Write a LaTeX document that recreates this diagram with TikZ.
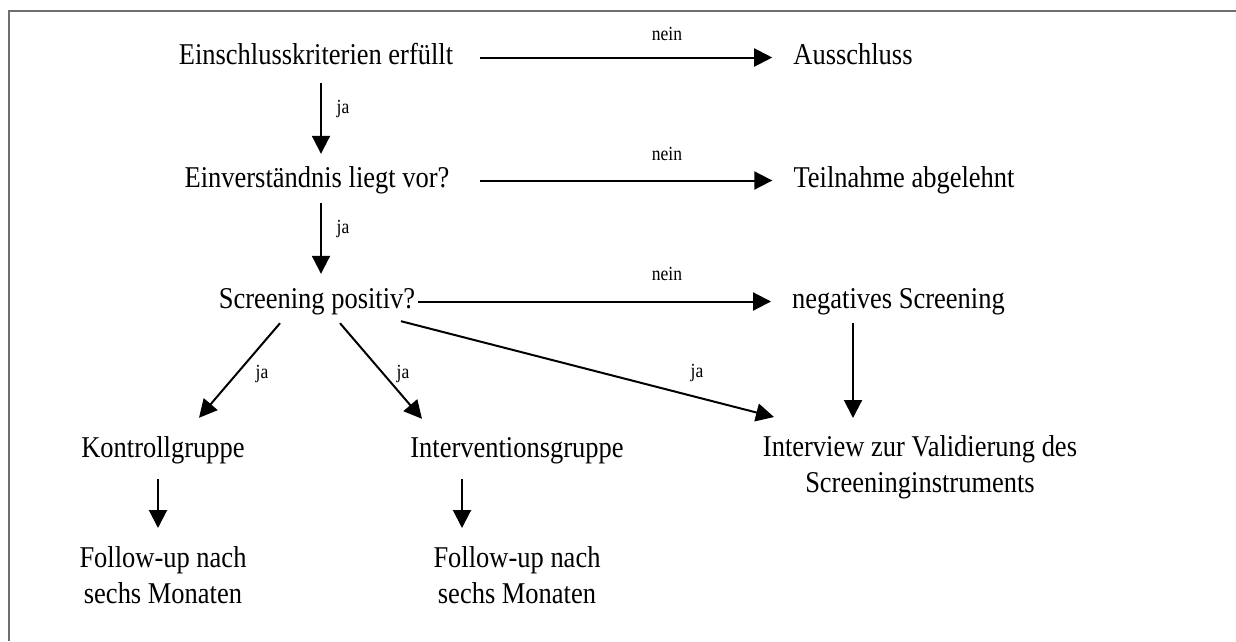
\documentclass[tikz,border=0pt]{standalone}
\usepackage{fontspec}
\setmainfont{Liberation Serif}[FakeStretch=0.877]
\usetikzlibrary{arrows.meta}
\definecolor{framegray}{RGB}{110,110,110}
\tikzset{
  txt/.style={inner sep=0pt, font=\fontsize{30.2}{35.5}\selectfont, text height=19pt, text depth=6pt, anchor=base},
  multi/.style={inner sep=0pt, font=\fontsize{30.2}{35.5}\selectfont, align=center, anchor=north},
  lbl/.style={inner sep=0pt, font=\fontsize{20}{22}\selectfont, anchor=base},
  arr/.style={line width=2pt, -{Triangle[length=18pt,width=18pt]}},
  frameline/.style={framegray, line width=1.6pt}
}
\begin{document}
\begin{tikzpicture}[x=1pt,y=-1pt]
\useasboundingbox (0,0) rectangle (1236,641);
% open frame: left and top edges
\draw[frameline] (9,641) -- (9,11) -- (1236,11);

% decision column
\node[txt] (e1) at (316,64) {Einschlusskriterien erfüllt};
\node[txt] (e2) at (317,187) {Einverständnis liegt vor?};
\node[txt] (sp) at (317,308) {Screening positiv?};

% outcomes on the right
\node[txt] (aus) at (853,64) {Ausschluss};
\node[txt] (teil) at (904,187) {Teilnahme abgelehnt};
\node[txt] (neg) at (898.5,308) {negatives Screening};

% groups
\node[txt] (kg) at (163,457) {Kontrollgruppe};
\node[txt] (ig) at (517,457) {Interventionsgruppe};
\node[multi] (iv) at (920,435.5) {Interview zur Validierung des\\Screeninginstruments};

% follow-ups
\node[multi] (fk) at (163,546.5) {Follow-up nach\\sechs Monaten};
\node[multi] (fi) at (517,546.5) {Follow-up nach\\sechs Monaten};

% "nein" branches
\draw[arr] ([xshift=27]e1.east) -- ([xshift=-21]aus.west);
\draw[arr] ([xshift=30]e2.east) -- ([xshift=-21]teil.west);
\draw[arr] ([xshift=3]sp.east) -- ([xshift=-21]neg.west);
\node[lbl] (n1) at (667,40) {nein};
\node[lbl] (n2) at (667,160) {nein};
\node[lbl] (n3) at (667,280) {nein};

% "ja" branches down the column
\draw[arr] ([xshift=5,yshift=-13]e1.south) -- ([xshift=4,yshift=14]e2.north);
\draw[arr] ([xshift=4,yshift=-10]e2.south) -- ([xshift=4,yshift=15]sp.north);
\node[lbl] (j1) at (343,113) {ja};
\node[lbl] (j2) at (343,233) {ja};

% positive screening splits
\draw[arr] ([xshift=-37,yshift=-9]sp.south) -- ([xshift=36,yshift=20]kg.north);
\draw[arr] ([xshift=23,yshift=-9]sp.south) -- ([xshift=-95,yshift=19]ig.north);
\draw[arr] ([xshift=84,yshift=-7]sp.south) -- ([xshift=-146,yshift=18.5]iv.north);
\node[lbl] (j3) at (262,378) {ja};
\node[lbl] (j4) at (403,378) {ja};
\node[lbl] (j5) at (697,377) {ja};

% negative screening to interview
\draw[arr] ([xshift=-45.5,yshift=-9]neg.south) -- ([xshift=-67,yshift=17.5]iv.north);

% groups to follow-up
\draw[arr] ([xshift=-5,yshift=-16]kg.south) -- ([xshift=-5,yshift=18.5]fk.north);
\draw[arr] ([xshift=-55,yshift=-16]ig.south) -- ([xshift=-55,yshift=18.5]fi.north);
\end{tikzpicture}
\end{document}
